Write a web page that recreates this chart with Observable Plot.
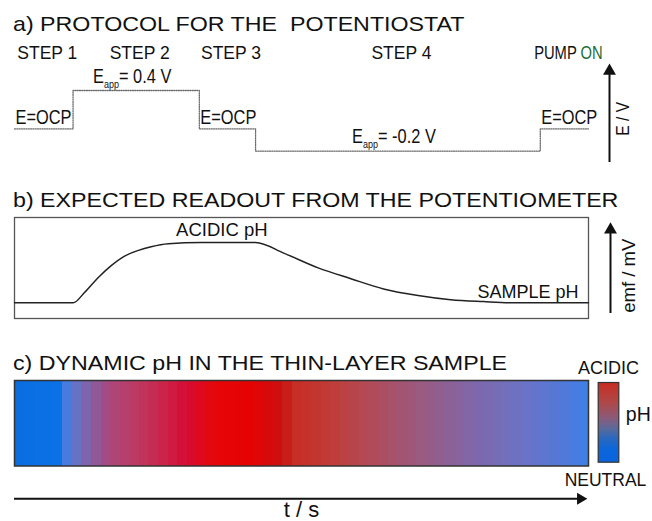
<!DOCTYPE html>
<html><head><meta charset="utf-8">
<script src="https://cdn.jsdelivr.net/npm/d3@7"></script>
<script src="https://cdn.jsdelivr.net/npm/@observablehq/plot@0.6"></script>
<style>
body{margin:0;background:#fff;}
#fig{position:relative;width:652px;height:521px;overflow:hidden;font-family:"Liberation Sans",Arial,sans-serif;color:#111;background:#fff;}
#fig > svg{position:absolute;}
.title{position:absolute;left:13px;font-size:20.2px;line-height:20px;white-space:pre;transform:scaleX(1.15);transform-origin:0 0;color:#111;}
</style></head><body><div id="fig"></div>
<script>
// ---------- DATA ----------
// a) potentiostat protocol (time in arbitrary units 0–100, potential in V; OCP ≈ 0.02 V)
const stepLabels = ["STEP 1", "STEP 2", "STEP 3", "STEP 4", "PUMP ON"];
const stepStart = [0, 10.2, 32.2, 42.0, 91.6];
const stepEnd = [10.2, 32.2, 42.0, 91.6, 100];
const stepPotential = [0.02, 0.4, 0.02, -0.2, 0.02];
const stepPotentialLabel = ["E=OCP", "E_app= 0.4 V", "E=OCP", "E_app= -0.2 V", "E=OCP"];
const potentialDomain = [-0.2, 0.4];

// b) expected potentiometric readout (emf, normalised: 0 = sample pH, 1 = acidic pH)
const emfTime = [0, 10.2, 12.2, 14.6, 16.9, 19.1, 21.6, 23.8, 26.8, 32.5, 42.0, 47.0, 52.9, 58.6, 64.3, 70.3, 76.0, 81.7, 87.7, 100];
const emfValue = [0, 0, 0.17, 0.42, 0.62, 0.77, 0.87, 0.93, 0.98, 1, 1, 0.82, 0.58, 0.40, 0.23, 0.12, 0.05, 0.02, 0, 0];
const emfLabels = ["ACIDIC pH", "SAMPLE pH"];
const emfAxisLabel = "emf / mV";
const potentialAxisLabel = "E / V";

// c) dynamic pH colour along time
const gradTime = [0, 7.7, 8.5, 10.6, 13.6, 16.7, 21.1, 26.3, 29.8, 35.0, 41.1, 46.3, 49.0, 55.1, 62.0, 70.7, 79.4, 88.2, 95.1, 100];
const gradColor = ["#0a6ee0", "#0a72e6", "#3a7ee8", "#6474c8", "#8a5c9c", "#ac467c", "#bc3a62", "#cc2248", "#d60c36", "#e60608",
                   "#e40202", "#cc1010", "#c62e26", "#c03c38", "#b24a58", "#9a5a80", "#8266a8", "#6c72c4", "#5478d8", "#3e80e8"];
// pH legend (0 = neutral at bottom, 1 = acidic at top)
const legendLevel = [0, 0.15, 0.3, 0.42, 0.55, 0.75, 1];
const legendColor = ["#0a64dc", "#0a66dc", "#2a68c0", "#5a6a9c", "#8a5c7c", "#b04848", "#c82c22"];
const legendLabels = ["ACIDIC", "NEUTRAL", "pH"];
const timeAxisLabel = "t / s";

const titles = ["a) PROTOCOL FOR THE  POTENTIOSTAT", "b) EXPECTED READOUT FROM THE POTENTIOMETER", "c) DYNAMIC pH IN THE THIN-LAYER SAMPLE"];

// ---------- BUILD ----------
const fig = document.getElementById("fig");
const SANS = "Liberation Sans, Arial, sans-serif";
const baseStyle = {fontFamily: SANS, fontSize: "17px", background: "transparent", overflow: "visible", color: "#111"};

function place(svg, left, top) {
  svg.style.left = left + "px"; svg.style.top = top + "px";
  fig.appendChild(svg);
}
// horizontally condense selected texts (narrow typeface look)
function condense(svg, test, k) {
  d3.select(svg).selectAll("text").filter(function () { return test(this.textContent); }).each(function () {
    let tr = this.getAttribute("transform") || "";
    if (this.hasAttribute("x") || this.hasAttribute("y")) {
      const x = +this.getAttribute("x") || 0, y = +this.getAttribute("y") || 0;
      this.removeAttribute("x"); this.removeAttribute("y");
      tr = `translate(${x},${y}) ` + tr;
    }
    this.setAttribute("transform", tr + ` scale(${k},1)`);
  });
}
[14, 190, 353].forEach((top, i) => {
  const d = document.createElement("div");
  d.className = "title"; d.style.top = top + "px"; d.textContent = titles[i];
  fig.appendChild(d);
});

// panel a
const steps = stepLabels.map((label, i) => ({
  label, start: stepStart[i], end: stepEnd[i], mid: (stepStart[i] + stepEnd[i]) / 2,
  E: stepPotential[i], eLabel: stepPotentialLabel[i]
}));
const protocolLine = steps.map(s => ({t: s.start, E: s.E})).concat([{t: steps[steps.length - 1].end, E: steps[steps.length - 1].E}]);
const tEnd = stepEnd[stepEnd.length - 1];

const pa = Plot.plot({
  width: 652, height: 175, marginLeft: 14, marginRight: 64, marginTop: 90, marginBottom: 24.3,
  x: {domain: [0, tEnd], axis: null}, y: {domain: potentialDomain, axis: null},
  style: baseStyle,
  marks: [
    Plot.line(protocolLine, {x: "t", y: "E", curve: "step-after", stroke: "#6a6a6a", strokeWidth: 1.3, strokeDasharray: "1 1.3"}),
    Plot.text(steps.slice(0, 4), {x: "mid", text: "label", frameAnchor: "top", lineAnchor: "bottom", dy: -32, dx: 3.5, fontSize: 17.5}),
    Plot.text(steps.slice(4), {x: "mid", text: "label", frameAnchor: "top", lineAnchor: "bottom", dy: -32, dx: 4, fontSize: 18}),
    Plot.text(steps.filter(s => s.eLabel.startsWith("E=")), {x: "start", y: "E", text: "eLabel", textAnchor: "start", lineAnchor: "bottom", dy: -5, dx: 1, fontSize: 20}),
    Plot.text(steps.filter(s => s.eLabel.startsWith("E_")), {x: "mid", y: "E", text: "eLabel", lineAnchor: "bottom", dy: -8, dx: -4, fontSize: 20}),
    Plot.ruleX([tEnd], {y1: potentialDomain[1], y2: potentialDomain[0], dx: 21, insetTop: -19.5, insetBottom: -11.3, stroke: "#111", strokeWidth: 2}),
    Plot.dot([{t: tEnd, E: potentialDomain[1]}], {x: "t", y: "E", dx: 21, dy: -19.5, symbol: "triangle", r: 4.8, fill: "#111", stroke: "none"}),
    Plot.text([potentialAxisLabel], {x: tEnd, y: (potentialDomain[0] + potentialDomain[1]) / 2, text: d => d, rotate: -90, dx: 40, dy: -2, fontSize: 19})
  ]
});
condense(pa, t => t === "E=OCP" || t.startsWith("E_app") || t === "PUMP ON" || t === potentialAxisLabel, 0.82);
d3.select(pa).selectAll("text").each(function () {
  const t = this.textContent;
  if (t.startsWith("E_app")) {
    const rest = t.slice(5); this.textContent = "";
    const s = d3.select(this);
    s.append("tspan").text("E");
    s.append("tspan").attr("dy", 5).attr("font-size", 11).text("app");
    s.append("tspan").attr("dy", -5).text(rest);
  } else if (t === "PUMP ON") {
    this.textContent = "";
    const s = d3.select(this);
    s.append("tspan").text("PUMP ");
    s.append("tspan").attr("fill", "#1c6b38").text("ON");
  }
});
place(pa, 0, 0);

// panel b
const emf = emfTime.map((t, i) => ({t, emf: emfValue[i]}));
const emfMax = d3.max(emfValue);
const peak = emf.filter(d => d.emf === emfMax).pop();
const sample = emf[emf.length - 1];
const emfDomain = [-0.26, 1.415];
const pb = Plot.plot({
  width: 652, height: 110, marginLeft: 14, marginRight: 64, marginTop: 5, marginBottom: 4,
  x: {domain: [0, tEnd], axis: null}, y: {domain: emfDomain, axis: null},
  style: baseStyle,
  marks: [
    Plot.frame({stroke: "#555", strokeWidth: 1.3}),
    Plot.line(emf, {x: "t", y: "emf", curve: "monotone-x", stroke: "#222", strokeWidth: 1.5}),
    Plot.text([peak], {x: "t", y: "emf", text: () => emfLabels[0], textAnchor: "end", lineAnchor: "bottom", dx: 12, dy: -7, fontSize: 18.5}),
    Plot.text([sample], {x: "t", y: "emf", text: () => emfLabels[1], textAnchor: "end", lineAnchor: "bottom", dx: -10, dy: -5, fontSize: 18}),
    Plot.ruleX([tEnd], {y1: emfMax, y2: 0, dx: 22, insetTop: -12.8, insetBottom: -10.7, stroke: "#111", strokeWidth: 2}),
    Plot.dot([{t: tEnd, emf: emfMax}], {x: "t", y: "emf", dx: 22, dy: -12.8, symbol: "triangle", r: 4.8, fill: "#111", stroke: "none"}),
    Plot.text([emfAxisLabel], {x: tEnd, y: emfMax / 2, text: d => d, rotate: -90, dx: 41, dy: 3, fontSize: 18.5})
  ]
});
place(pb, 0, 212);

// panel c
const colorScale = {type: "linear", domain: gradTime, range: gradColor, interpolate: "rgb"};
const pc = Plot.plot({
  width: 652, height: 146, marginLeft: 14, marginRight: 64, marginTop: 5, marginBottom: 55.5,
  x: {domain: [0, tEnd], axis: null}, y: {domain: [0, 1], axis: null},
  color: colorScale,
  style: baseStyle,
  marks: [
    Plot.raster({x1: 0, x2: tEnd, y1: 0, y2: 1, width: 60, height: 1, fill: (x, y) => x, imageRendering: "pixelated"}),
    Plot.frame({stroke: "#333", strokeWidth: 1.5}),
    Plot.ruleY([0], {x1: 0, x2: tEnd, dy: 32.8, insetRight: 8, stroke: "#111", strokeWidth: 2}),
    Plot.dot([{t: tEnd, v: 0}], {x: "t", y: "v", dx: -8, dy: 32.8, symbol: "triangle", rotate: 90, r: 4.4, fill: "#111", stroke: "none"}),
    Plot.text([timeAxisLabel], {frameAnchor: "bottom", text: d => d, lineAnchor: "bottom", dy: 50.5, fontSize: 22})
  ]
});
place(pc, 0, 375);

// pH legend
const pl = Plot.plot({
  width: 92, height: 140, marginLeft: 37.7, marginRight: 33.7, marginTop: 30, marginBottom: 30.3,
  x: {domain: [0, 1], axis: null}, y: {domain: [0, 1], axis: null},
  color: {type: "linear", domain: legendLevel, range: legendColor, interpolate: "rgb"},
  style: baseStyle,
  marks: [
    Plot.raster({x1: 0, x2: 1, y1: 0, y2: 1, width: 1, height: 80, fill: (x, y) => y}),
    Plot.frame({stroke: "#333", strokeWidth: 1.2}),
    Plot.text([legendLabels[0]], {frameAnchor: "top", text: d => d, lineAnchor: "bottom", dy: -9, fontSize: 18}),
    Plot.text([legendLabels[1]], {frameAnchor: "bottom", text: d => d, lineAnchor: "bottom", dy: 23.3, dx: -3, fontSize: 17.5}),
    Plot.text([legendLabels[2]], {frameAnchor: "right", text: d => d, textAnchor: "start", lineAnchor: "bottom", dx: 7, dy: -1, fontSize: 19.5})
  ]
});
place(pl, 560, 352);
</script></body></html>
